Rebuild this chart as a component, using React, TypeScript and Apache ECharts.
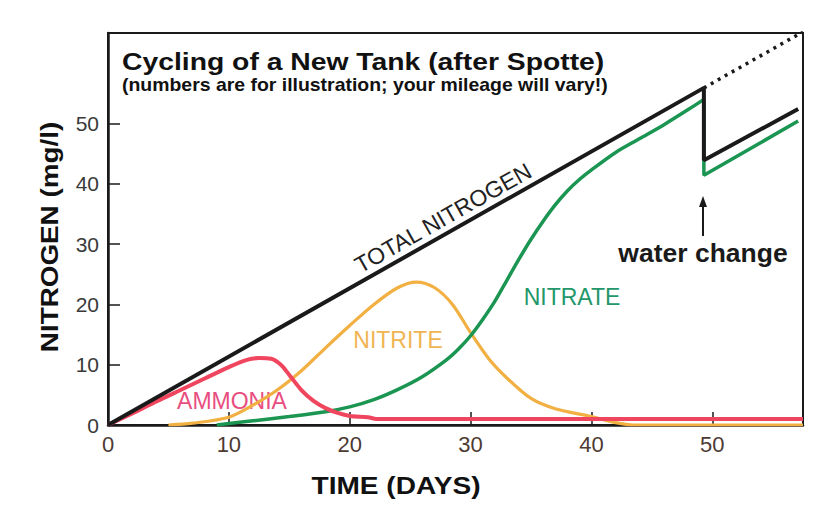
import React, { useEffect, useRef } from "react";
import * as echarts from "echarts";

// ---- axis ticks ----
const xTicks = [0, 10, 20, 30, 40, 50];
const yTicks = [0, 10, 20, 30, 40, 50];

// ---- total nitrogen (black), with water change at ~day 49 ----
const totalDays = [0, 49.3, 49.3, 57.1];
const totalN = [0, 55.9, 43.9, 52.4];
// projected total without water change (dotted)
const projectedDays = [49.3, 57.5];
const projectedN = [55.9, 65.2];

// ---- ammonia (red) ----
const ammoniaDays = [0, 2, 4, 6, 8, 10, 11.5, 12.5, 13.5, 14.3, 15, 16, 17, 18, 19, 20, 21.5, 22.2, 57.5];
const ammonia = [0, 1.9, 3.9, 5.8, 7.7, 9.6, 10.8, 11.1, 11.0, 10.0, 8.3, 5.8, 4.0, 2.8, 2.0, 1.5, 1.3, 1.0, 1.0];

// ---- nitrite (orange) ----
const nitriteDays = [5, 7, 10, 12, 14, 16, 18, 20, 22, 24, 25.5, 27, 28.5, 30, 31.5, 33, 35, 37, 40, 42, 43.5, 57.5];
const nitrite = [0, 0.3, 1.3, 3.3, 5.8, 9, 12.8, 16.5, 20, 22.8, 23.7, 22.8, 20, 15.3, 11, 7.8, 4.4, 2.7, 1.4, 0.4, 0, 0];

// ---- nitrate (green) ----
const nitrateDays = [9, 12, 15, 18, 20, 22, 24, 26, 28, 29, 30, 31, 32, 33, 34, 35, 36, 37, 38, 39, 40, 42, 44, 46, 48, 49.3];
const nitrate = [0, 0.7, 1.4, 2.2, 3.0, 4.2, 5.9, 8.0, 10.8, 12.6, 14.8, 17.5, 20.5, 24, 27.5, 30.8, 33.8, 36.5, 38.8, 40.7, 42.3, 45.2, 47.5, 49.8, 52.3, 54];
const nitrateAfterDays = [49.3, 49.3, 57.1];
const nitrateAfter = [54, 41.4, 50.4];

const pairs = (xs: number[], ys: number[]) => xs.map((x, i) => [x, ys[i]]);

const BLACK = "#1a1a1a";
const GREEN = "#1b9552";
const RED = "#f0455e";
const ORANGE = "#f2b043";
const FONT = "'Liberation Sans', Arial, Helvetica, sans-serif";

export default function App() {
  const ref = useRef<HTMLDivElement>(null);
  useEffect(() => {
    document.body.style.margin = "0";
    const chart = echarts.init(ref.current!, undefined, { renderer: "svg" });
    const slopeAngle = Math.atan((55.9 / 49.3) * (392 / 65) / (695 / 57.5));
    chart.setOption({
      animation: false,
      backgroundColor: "#ffffff",
      grid: {
        left: 108,
        top: 33,
        right: 27,
        bottom: 88,
        show: true,
        borderColor: BLACK,
        borderWidth: 2,
        containLabel: false,
      },
      xAxis: {
        type: "value",
        min: 0,
        max: 57.5,
        interval: 10,
        axisLine: { show: true, lineStyle: { color: BLACK, width: 2.5 } },
        axisTick: { show: true, inside: true, length: 13, lineStyle: { color: BLACK, width: 1.5 }, customValues: xTicks.slice(1) },
        axisLabel: { fontSize: 22, color: "#4d3a33", fontFamily: FONT, margin: 8, customValues: xTicks },
        splitLine: { show: false },
      },
      yAxis: {
        type: "value",
        min: 0,
        max: 65,
        interval: 10,
        axisLine: { show: true, lineStyle: { color: BLACK, width: 2.5 } },
        axisTick: { show: true, inside: true, length: 12, lineStyle: { color: BLACK, width: 1.5 }, customValues: yTicks.slice(1) },
        axisLabel: { fontSize: 21, color: "#3a3a3a", fontFamily: FONT, margin: 9, customValues: yTicks },
        splitLine: { show: false },
      },
      series: [
        {
          type: "line", name: "Nitrite", data: pairs(nitriteDays, nitrite), smooth: 0.3,
          showSymbol: false, lineStyle: { color: ORANGE, width: 3.2 }, z: 2,
        },
        {
          type: "line", name: "Nitrate", data: pairs(nitrateDays, nitrate), smooth: 0.3,
          showSymbol: false, lineStyle: { color: GREEN, width: 3.5 }, z: 3,
        },
        {
          type: "line", name: "Nitrate after change", data: pairs(nitrateAfterDays, nitrateAfter),
          showSymbol: false, lineStyle: { color: GREEN, width: 3.5 }, z: 3,
        },
        {
          type: "line", name: "Ammonia", data: pairs(ammoniaDays, ammonia), smooth: 0.3,
          showSymbol: false, lineStyle: { color: RED, width: 4 }, z: 4,
        },
        {
          type: "line", name: "Total nitrogen", data: pairs(totalDays, totalN),
          showSymbol: false, lineStyle: { color: BLACK, width: 4 }, z: 5,
        },
        {
          type: "line", name: "Projected total", data: pairs(projectedDays, projectedN),
          showSymbol: false, lineStyle: { color: BLACK, width: 3.5, type: [3, 5] }, z: 5,
        },
      ],
      graphic: [
        {
          type: "text", x: 122, y: 62, scaleX: 1.18,
          style: { text: "Cycling of a New Tank (after Spotte)", font: `bold 24px ${FONT}`, fill: "#111", textAlign: "left", textVerticalAlign: "middle", verticalAlign: "middle" },
        },
        {
          type: "text", x: 122, y: 85, scaleX: 1.08,
          style: { text: "(numbers are for illustration; your mileage will vary!)", font: `bold 18px ${FONT}`, fill: "#111", textAlign: "left", textVerticalAlign: "middle", verticalAlign: "middle" },
        },
        {
          type: "text", x: 50, y: 237, rotation: Math.PI / 2, scaleX: 1.16,
          style: { text: "NITROGEN (mg/l)", font: `bold 24px ${FONT}`, fill: "#111", textAlign: "center", textVerticalAlign: "middle", verticalAlign: "middle" },
        },
        {
          type: "text", x: 396, y: 486, scaleX: 1.17,
          style: { text: "TIME (DAYS)", font: `bold 24px ${FONT}`, fill: "#111", textAlign: "center", textVerticalAlign: "middle", verticalAlign: "middle" },
        },
        {
          type: "text", x: 443, y: 218, rotation: slopeAngle,
          style: { text: "TOTAL NITROGEN", font: `23px ${FONT}`, fill: "#222", textAlign: "center", textVerticalAlign: "middle", verticalAlign: "middle" },
        },
        {
          type: "text", x: 232, y: 401,
          style: { text: "AMMONIA", font: `23px ${FONT}`, fill: "#e84f80", textAlign: "center", textVerticalAlign: "middle", verticalAlign: "middle" },
        },
        {
          type: "text", x: 398, y: 340,
          style: { text: "NITRITE", font: `23px ${FONT}`, fill: "#f0b552", textAlign: "center", textVerticalAlign: "middle", verticalAlign: "middle" },
        },
        {
          type: "text", x: 572, y: 297,
          style: { text: "NITRATE", font: `23px ${FONT}`, fill: "#23976a", textAlign: "center", textVerticalAlign: "middle", verticalAlign: "middle" },
        },
        {
          type: "text", x: 703, y: 253, scaleX: 1.06,
          style: { text: "water change", font: `bold 25px ${FONT}`, fill: "#1a1a1a", textAlign: "center", textVerticalAlign: "middle", verticalAlign: "middle" },
        },
        {
          type: "line", shape: { x1: 703, y1: 236, x2: 703, y2: 203 },
          style: { stroke: "#1a1a1a", lineWidth: 2 },
        },
        {
          type: "polygon", shape: { points: [[703, 196], [699, 207], [707, 207]] },
          style: { fill: "#1a1a1a" },
        },
      ],
    });
    return () => chart.dispose();
  }, []);
  return <div ref={ref} style={{ position: "absolute", left: 0, top: 0, width: 830, height: 513 }} />;
}
